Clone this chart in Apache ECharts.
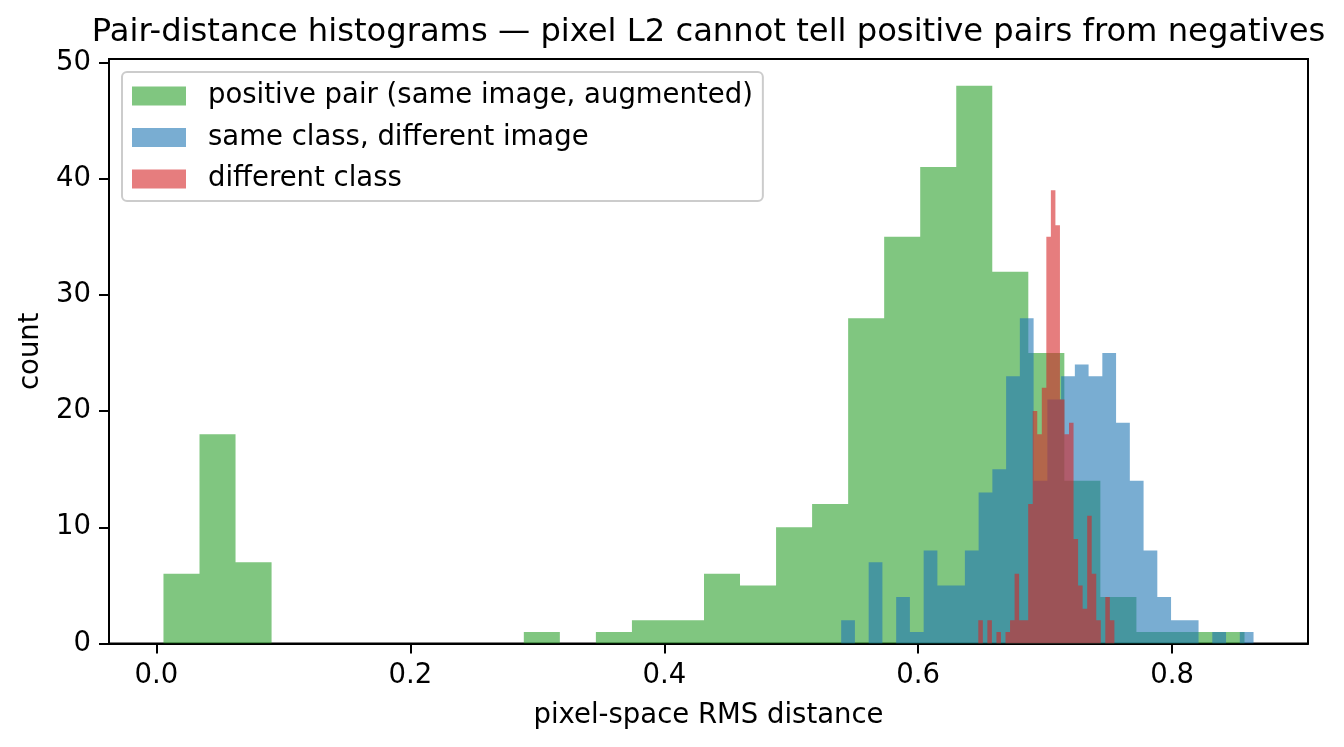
<!DOCTYPE html>
<html><head><meta charset="utf-8">
<script src="https://cdn.jsdelivr.net/npm/echarts@6/dist/echarts.min.js"></script>
<style>html,body{margin:0;padding:0;background:#fff}#c{width:1344px;height:747px}</style>
</head><body><div id="c"></div>
<script>
// ---- data ----
const titleText = 'Pair-distance histograms — pixel L2 cannot tell positive pairs from negatives';
const xLabel = 'pixel-space RMS distance';
const yLabel = 'count';
const seriesNames = ['positive pair (same image, augmented)', 'same class, different image', 'different class'];
// histogram ranges [first edge, last edge] and per-bin counts (30 bins each)
const positiveRange = [0.0055, 0.8570];
const positiveCounts = [6,18,7,0,0,0,0,0,0,0,1,0,1,2,2,6,5,10,12,28,35,41,48,32,25,14,4,1,1,1];
const sameClassRange = [0.5393, 0.8641];
const sameClassCounts = [2,0,7,0,4,1,8,5,5,8,13,15,23,28,14,21,23,24,23,25,19,14,8,4,2,2,0,1,0,1];
const diffClassRange = [0.6473, 0.7545];
const diffClassCounts = [2,0,2,0,1,0,1,2,6,2,2,12,20,18,22,35,39,36,21,18,19,9,5,3,11,6,2,0,4,2];
const xTicks = [0, 0.2, 0.4, 0.6, 0.8];
const yTicks = [0, 10, 20, 30, 40, 50];

// ---- build ----
function toSteps(range, counts) {
  const n = counts.length, w = (range[1] - range[0]) / n;
  const pts = counts.map((c, i) => [range[0] + i * w, c]);
  pts.push([range[1], counts[n - 1]]);
  return pts;
}
const FONT = 'DejaVu Sans';
const colors = ['rgba(44,160,44,0.6)', 'rgba(31,119,180,0.6)', 'rgba(214,39,40,0.6)'];
const datasets = [
  toSteps(positiveRange, positiveCounts),
  toSteps(sameClassRange, sameClassCounts),
  toSteps(diffClassRange, diffClassCounts)
];
const chart = echarts.init(document.getElementById('c'), null, {renderer: 'canvas'});
chart.setOption({
  animation: false,
  backgroundColor: '#fff',
  textStyle: {fontFamily: FONT, color: '#000'},
  graphic: [{
    type: 'text', x: 708.5, y: 33,
    style: {text: titleText, fill: '#000', font: '32.2px "DejaVu Sans"', textAlign: 'center', textVerticalAlign: 'middle'}
  }],
  grid: {left: 109, right: 36, top: 59, bottom: 103.5, show: true, borderColor: '#000', borderWidth: 2, containLabel: false},
  legend: {
    orient: 'vertical', left: 122, top: 72,
    icon: 'rect', itemWidth: 54, itemHeight: 19, itemGap: 11.5,
    padding: [9, 10, 7, 10],
    backgroundColor: 'rgba(255,255,255,0.8)', borderColor: '#cccccc', borderWidth: 2, borderRadius: 5,
    textStyle: {fontFamily: FONT, fontSize: 27.5, color: '#000', lineHeight: 30, padding: [0, 0, 0, 17]},
    data: seriesNames
  },
  xAxis: {
    type: 'value', min: -0.0374, max: 0.907,
    name: xLabel, nameLocation: 'middle', nameGap: 58,
    nameTextStyle: {fontFamily: FONT, fontSize: 27.5, color: '#000'},
    axisLine: {show: true, onZero: false, lineStyle: {color: '#000', width: 2}},
    axisTick: {show: true, length: 10, lineStyle: {color: '#000', width: 2}, customValues: xTicks},
    axisLabel: {fontFamily: FONT, fontSize: 27.5, color: '#000', margin: 18, customValues: xTicks, formatter: v => v.toFixed(1)},
    splitLine: {show: false}
  },
  yAxis: {
    type: 'value', min: 0, max: 50.3,
    name: yLabel, nameLocation: 'middle', nameGap: 64,
    nameTextStyle: {fontFamily: FONT, fontSize: 27.5, color: '#000'},
    axisLine: {show: true, onZero: false, lineStyle: {color: '#000', width: 2}},
    axisTick: {show: true, length: 10, lineStyle: {color: '#000', width: 2}, customValues: yTicks},
    axisLabel: {fontFamily: FONT, fontSize: 27.5, color: '#000', margin: 18, customValues: yTicks},
    splitLine: {show: false}
  },
  series: datasets.map((d, i) => ({
    type: 'line', name: seriesNames[i], data: d, step: 'end',
    symbol: 'none', showSymbol: false,
    itemStyle: {color: colors[i]},
    lineStyle: {width: 0, opacity: 0},
    areaStyle: {color: colors[i], opacity: 1, origin: 'start'},
    z: 2 + i
  }))
});
</script></body></html>
